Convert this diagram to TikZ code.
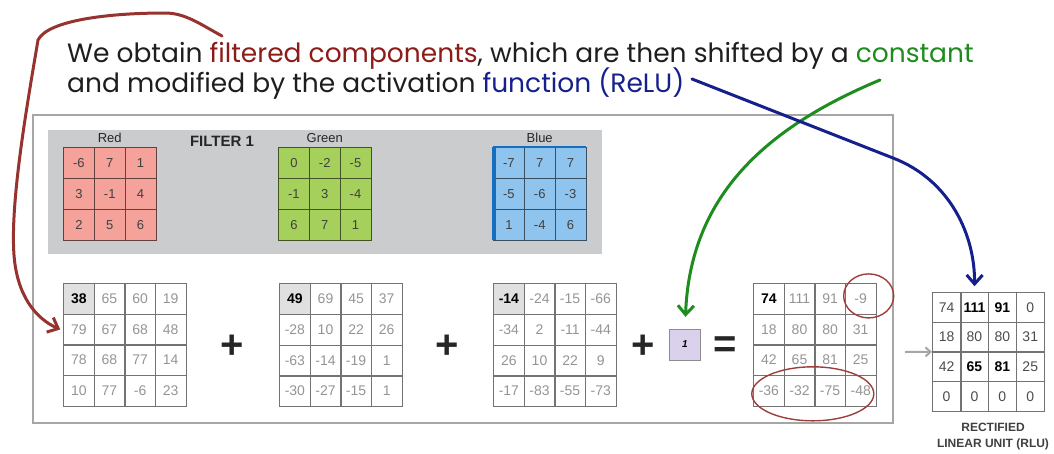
\documentclass[tikz,border=0pt]{standalone}
\usepackage{fontspec}
\setmainfont{Liberation Sans}
\newfontfamily\titlefont{Poppins}
\usetikzlibrary{matrix, positioning, calc, arrows.meta}
\definecolor{titledark}{RGB}{30, 30, 30}
\definecolor{markred}{RGB}{140, 28, 24}
\definecolor{markgreen}{RGB}{30, 140, 30}
\definecolor{markblue}{RGB}{22, 32, 140}
\definecolor{filtred}{RGB}{244, 162, 154}
\definecolor{filtgreen}{RGB}{166, 208, 92}
\definecolor{filtblue}{RGB}{142, 196, 238}
\definecolor{blueedge}{RGB}{24, 110, 190}
\definecolor{panelgray}{RGB}{203, 204, 206}
\definecolor{biasviolet}{RGB}{218, 210, 236}

\begin{document}
\begin{tikzpicture}[
    x=1pt, y=-1pt,
    fcell/.style={
        draw=#1!40!black, fill=#1, minimum width=31pt, minimum height=31pt,
        inner sep=0pt, font=\fontsize{13}{13}\selectfont, text=black!75
    },
    fmat/.style={
        matrix of nodes, nodes={fcell=#1}, inner sep=0pt, anchor=north west,
        column sep=-0.6pt, row sep=-0.6pt
    },
    vcell/.style={
        draw=black!55, minimum width=31pt, minimum height=31pt, inner sep=0pt,
        font=\fontsize{14}{14}\selectfont, text=black!42
    },
    vmat/.style={
        matrix of nodes, nodes={vcell}, inner sep=0pt, anchor=north west,
        column sep=-0.8pt, row sep=-0.8pt
    },
    lead/.style={fill=black!12, text=black, font=\fontsize{14}{14}\selectfont\bfseries},
    rcell/.style={
        draw=black!55, minimum width=28.3pt, minimum height=30pt, inner sep=0pt,
        font=\fontsize{14}{14}\selectfont, text=black!70
    },
    strong/.style={text=black, font=\fontsize{14}{14}\selectfont\bfseries},
    flabel/.style={font=\fontsize{13}{13}\selectfont, text=black!85},
    opsign/.style={font=\fontsize{40}{40}\selectfont\bfseries, text=black!85},
    title/.style={font=\titlefont\fontsize{26.5}{30}\selectfont, text=titledark, anchor=base west, inner sep=0pt},
    hand/.style={line width=3pt, line cap=round, -{Straight Barb[length=9pt, width=16pt]}},
    ring/.style={draw=markred!85, line width=1.4pt}
]
\useasboundingbox (0,0) rectangle (1054,453);

% Heading
\node[title] (line1) at (67,62) {We obtain \textcolor{markred}{filtered components}, which are then shifted by a \textcolor{markgreen}{constant}};
\node[title] (line2) at (67,92) {and modified by the activation \textcolor{markblue}{function (ReLU)}};

% Frame and filter panel
\draw[black!35, line width=1.2pt] (33,115) rectangle (893,423);
\fill[panelgray] (48,130) rectangle (602,254);

% Filter 1
\matrix (fred) [fmat=filtred] at (63,147) {-6 & 7 & 1\\ 3 & -1 & 4\\ 2 & 5 & 6\\};
\matrix (fgreen) [fmat=filtgreen] at (278,147) {0 & -2 & -5\\ -1 & 3 & -4\\ 6 & 7 & 1\\};
\matrix (fblue) [fmat=filtblue] at (493,147) {-7 & 7 & 7\\ -5 & -6 & -3\\ 1 & -4 & 6\\};
\draw[blueedge, line width=3.5pt] ([xshift=1pt]fblue.north west) -- ([xshift=1pt]fblue.south west);
\draw[blueedge, line width=2pt] (fblue.north west) -- (fblue.north east);

\node[flabel, above=1pt of fred] (redlab) {Red};
\node[flabel, above=1pt of fgreen] (greenlab) {Green};
\node[flabel, above=1pt of fblue] (bluelab) {Blue};
\node[font=\fontsize{15}{15}\selectfont\bfseries, text=black!85] (ftitle) at (222,141) {FILTER 1};

% Filtered components
\matrix (m1) [vmat] at (63,283) {
    |[lead]| 38 & 65 & 60 & 19\\
    79 & 67 & 68 & 48\\
    78 & 68 & 77 & 14\\
    10 & 77 & -6 & 23\\};
\matrix (m2) [vmat] at (279,283) {
    |[lead]| 49 & 69 & 45 & 37\\
    -28 & 10 & 22 & 26\\
    -63 & -14 & -19 & 1\\
    -30 & -27 & -15 & 1\\};
\matrix (m3) [vmat] at (493,283) {
    |[lead]| -14 & -24 & -15 & -66\\
    -34 & 2 & -11 & -44\\
    26 & 10 & 22 & 9\\
    -17 & -83 & -55 & -73\\};
\matrix (m4) [vmat] at (753,283) {
    |[strong]| 74 & 111 & 91 & -9\\
    18 & 80 & 80 & 31\\
    42 & 65 & 81 & 25\\
    -36 & -32 & -75 & -48\\};

\node[opsign] (plus1) at (232,347) {+};
\node[opsign] (plus2) at (447,347) {+};
\node[opsign] (plus3) at (643,347) {+};
\node[draw=black!45, fill=biasviolet, minimum width=31pt, minimum height=31pt, inner sep=0pt,
      font=\fontsize{10}{10}\selectfont\bfseries\itshape] (bias) at (685,344.5) {1};
\node[opsign] (equal) at (725,347) {=};

% Negative entries
\draw[ring] ($(m4-1-4.center)+(8,-3)$) ellipse [x radius=25, y radius=22];
\draw[ring] ($(m4-4-2.center)!0.5!(m4-4-3.center)+(-2,3)$) ellipse [x radius=61, y radius=27];

% ReLU output
\matrix (rlu) [matrix of nodes, nodes={rcell}, inner sep=0pt, anchor=north west,
    column sep=-0.8pt, row sep=-0.8pt] at (932,292) {
    74 & |[strong]| 111 & |[strong]| 91 & 0\\
    18 & 80 & 80 & 31\\
    42 & |[strong]| 65 & |[strong]| 81 & 25\\
    0 & 0 & 0 & 0\\};
\node[font=\fontsize{12}{16}\selectfont\bfseries, text=black!75, align=center, anchor=north] (rlucap) at (993,420) {RECTIFIED\\LINEAR UNIT (RLU)};

\coordinate (graytail) at (905,352);
\draw[black!35, line width=2pt, -{Straight Barb[length=5pt, width=9pt]}] (graytail) -- (rlu.west);

% Hand-drawn arrows
\coordinate (redtail) at (222,36);
\coordinate (greentail) at (880,80);
\coordinate (relutail) at (692,79);
\draw[hand, markred!90] (redtail) .. controls (200,24) and (185,13) .. (165,13)
    .. controls (110,13) and (48,20) .. (38,40)
    .. controls (28,100) and (10,200) .. (14,255)
    .. controls (17,295) and (35,318) .. ([xshift=-3pt]m1-2-1.west);
\draw[hand, markgreen, shorten >=12pt] (greentail) .. controls (760,130) and (690,200) .. (bias.north);
\draw[hand, markblue, shorten >=6pt] (relutail) -- (893,158) .. controls (950,180) and (975,235) .. (rlu-1-2.north);

\end{tikzpicture}
\end{document}
